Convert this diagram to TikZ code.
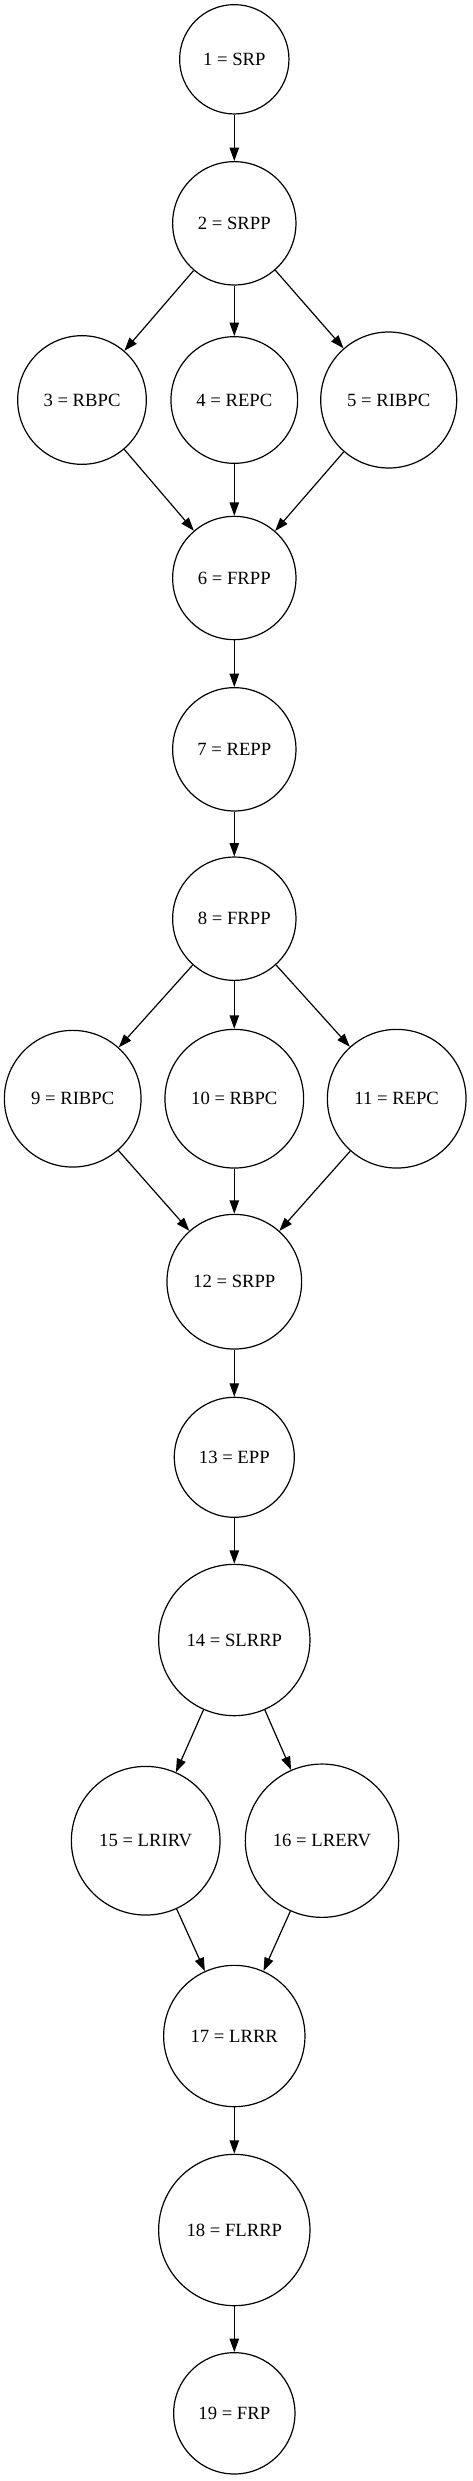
\documentclass[tikz,border=0pt]{standalone}
\usepackage{fontspec}
\setmainfont{Liberation Serif}
\usetikzlibrary{arrows.meta}

\begin{document}
\begin{tikzpicture}[x=0.75pt,y=-0.75pt,
        state/.style={draw,circle,line width=0.9pt,inner sep=0pt,font=\fontsize{14pt}{16pt}\selectfont},
        edge/.style={line width=0.9pt,-{Triangle[length=10pt,width=7pt]}}]

        \useasboundingbox (0,0) rectangle (472,2481);

        \node[state,minimum size=82pt]  (p1)  at (234.3,59.3)   {1 = SRP};
        \node[state,minimum size=92.5pt](p2)  at (234.3,223.3)  {2 = SRPP};
        \node[state,minimum size=96.5pt](p3)  at (82,400)       {3 = RBPC};
        \node[state,minimum size=95pt]  (p4)  at (234.3,400)    {4 = REPC};
        \node[state,minimum size=102pt] (p5)  at (388.7,400)    {5 = RIBPC};
        \node[state,minimum size=92.5pt](p6)  at (234.3,578)    {6 = FRPP};
        \node[state,minimum size=92.5pt](p7)  at (234.3,749.3)  {7 = REPP};
        \node[state,minimum size=92.5pt](p8)  at (234.3,918.7)  {8 = FRPP};
        \node[state,minimum size=102.5pt](p9) at (72.7,1098.7)  {9 = RIBPC};
        \node[state,minimum size=104pt] (p10) at (234.3,1098.7) {10 = RBPC};
        \node[state,minimum size=104pt] (p11) at (396.7,1098.7) {11 = REPC};
        \node[state,minimum size=101pt] (p12) at (234.3,1281.7) {12 = SRPP};
        \node[state,minimum size=90pt]  (p13) at (234.3,1457.3) {13 = EPP};
        \node[state,minimum size=113.5pt](p14) at (234.3,1640)  {14 = SLRRP};
        \node[state,minimum size=111.5pt](p15) at (145.7,1840.7) {15 = LRIRV};
        \node[state,minimum size=115pt] (p16) at (322,1840.7)   {16 = LRERV};
        \node[state,minimum size=106pt] (p17) at (234.3,2036)   {17 = LRRR};
        \node[state,minimum size=113.5pt](p18) at (234.3,2230)  {18 = FLRRP};
        \node[state,minimum size=91pt]  (p19) at (234.3,2413.3) {19 = FRP};

        % first block
        \draw[edge] (p1) -- (p2);
        \draw[edge] (p2) -- (p3);
        \draw[edge] (p2) -- (p4);
        \draw[edge] (p2) -- (p5);
        \draw[edge] (p3) -- (p6);
        \draw[edge] (p4) -- (p6);
        \draw[edge] (p5) -- (p6);
        \draw[edge] (p6) -- (p7);
        \draw[edge] (p7) -- (p8);

        % second block
        \draw[edge] (p8) -- (p9);
        \draw[edge] (p8) -- (p10);
        \draw[edge] (p8) -- (p11);
        \draw[edge] (p9) -- (p12);
        \draw[edge] (p10) -- (p12);
        \draw[edge] (p11) -- (p12);
        \draw[edge] (p12) -- (p13);
        \draw[edge] (p13) -- (p14);

        % third block
        \draw[edge] (p14) -- (p15);
        \draw[edge] (p14) -- (p16);
        \draw[edge] (p15) -- (p17);
        \draw[edge] (p16) -- (p17);
        \draw[edge] (p17) -- (p18);
        \draw[edge] (p18) -- (p19);

\end{tikzpicture}
\end{document}
